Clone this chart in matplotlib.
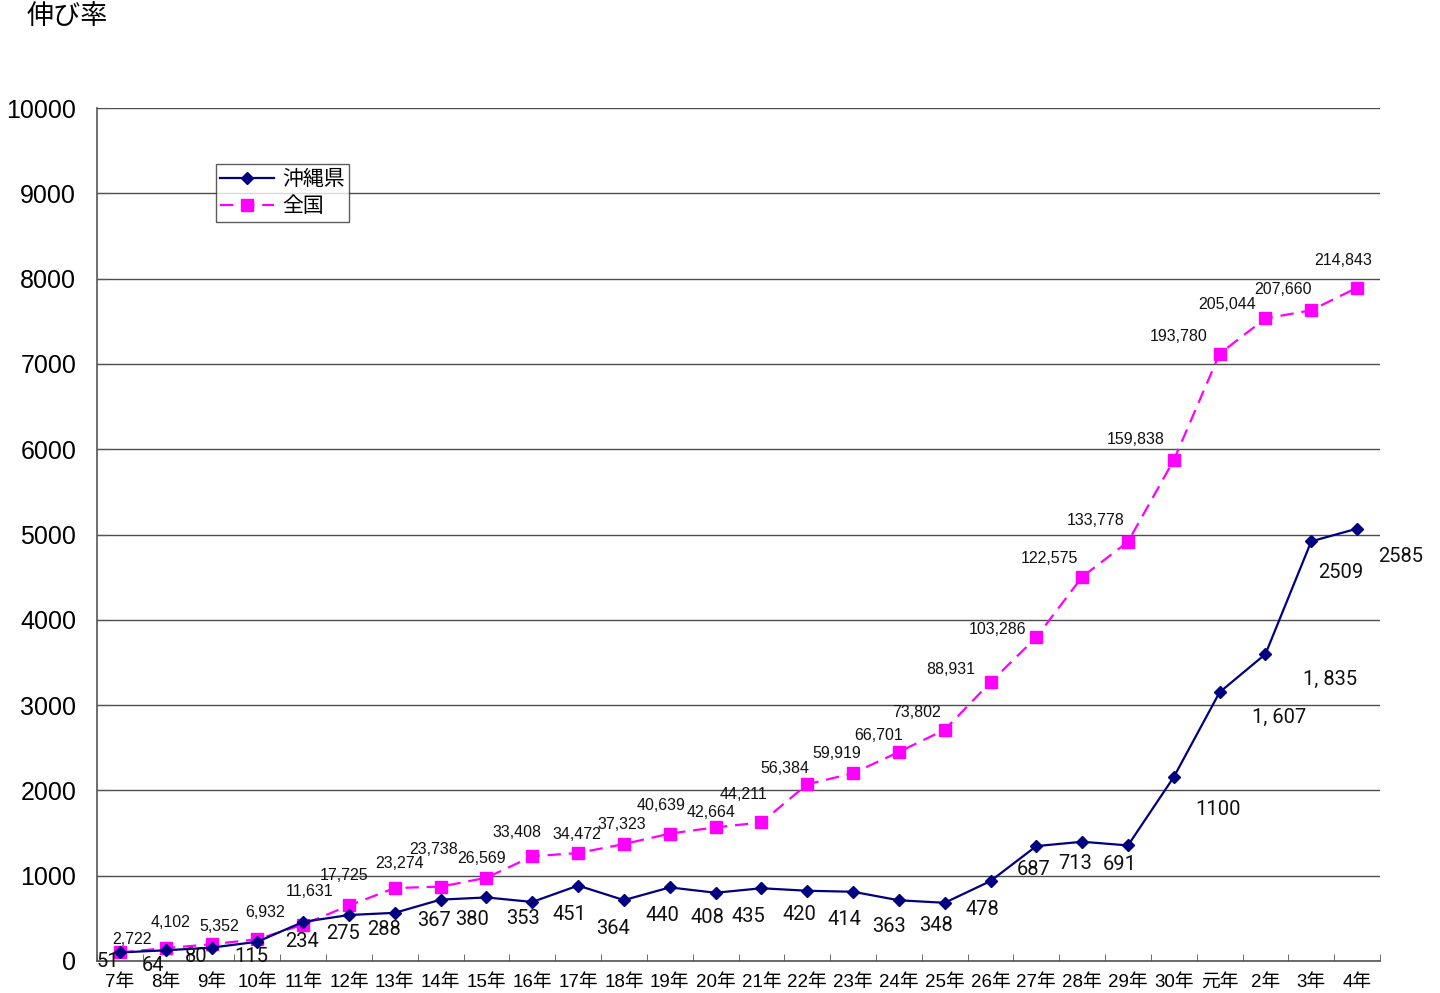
import matplotlib
matplotlib.use("Agg")
import matplotlib.pyplot as plt
import numpy as np

plt.rcParams["font.family"] = ["Noto Sans CJK JP", "DejaVu Sans"]

# %%
# Data
years = ["7年", "8年", "9年", "10年", "11年", "12年", "13年", "14年", "15年",
         "16年", "17年", "18年", "19年", "20年", "21年", "22年", "23年", "24年",
         "25年", "26年", "27年", "28年", "29年", "30年", "元年", "2年", "3年", "4年"]

okinawa_count = [51, 64, 80, 115, 234, 275, 288, 367, 380, 353, 451, 364, 440,
                 408, 435, 420, 414, 363, 348, 478, 687, 713, 691, 1100, 1607,
                 1835, 2509, 2585]
national_count = [2722, 4102, 5352, 6932, 11631, 17725, 23274, 23738, 26569,
                  33408, 34472, 37323, 40639, 42664, 44211, 56384, 59919, 66701,
                  73802, 88931, 103286, 122575, 133778, 159838, 193780, 205044,
                  207660, 214843]

okinawa_text = ["51", "64", "80", "115", "234", "275", "288", "367", "380", "353",
                "451", "364", "440", "408", "435", "420", "414", "363", "348",
                "478", "687", "713", "691", "1100", "1, 607", "1, 835", "2509",
                "2585"]
national_text = [f"{v:,}" for v in national_count]

# growth rate, first year = 100
okinawa_rate = np.array(okinawa_count) / okinawa_count[0] * 100
national_rate = np.array(national_count) / national_count[0] * 100

# label offsets in pixels (dx, dy) relative to the point, screen y upward
ok_off = [(-12, -9), (-13, -15), (-15, -9), (-6, -15), (-1, -20), (-6, -18),
          (-11, -17), (-7, -21), (-14, -22), (-9, -17), (-9, -29), (-11, -28),
          (-7, -28), (-8, -25), (-13, -28), (-8, -24), (-9, -28), (-10, -26),
          (-9, -23), (-8, -28), (-3, -23), (-7, -22), (-8, -19), (44, -32),
          (60, -25), (65, -25), (29, -31), (44, -28)]
nat_off = [(12, 13), (5, 26), (8, 18), (8, 27), (6, 33), (-5, 30), (5, 25),
           (-7, 37), (-5, 19), (-15, 24), (-1, 18), (-2, 20), (-9, 28), (-5, 15),
           (-18, 28), (-22, 16), (-16, 20), (-20, 16), (-28, 17), (-40, 13),
           (-39, 8), (-33, 18), (-32, 21), (-38, 21), (-41, 17), (-38, 14),
           (-28, 21), (-14, 27)]

x = np.arange(len(years))

# %%
# Figure
fig = plt.figure(figsize=(14.4, 9.93), dpi=100)
ax = fig.add_axes([97 / 1440, 1 - 961 / 993, 1283 / 1440, 853 / 993])

ax.set_xlim(-0.5, len(years) - 0.5)
ax.set_ylim(0, 10000)
ax.set_yticks(np.arange(0, 10001, 1000))
ax.yaxis.grid(True, color="#4d4d4d", linewidth=1.0)
ax.set_axisbelow(True)

ax.set_xticks(x)
ax.set_xticklabels(years, fontsize=13.5,
                   family=["Liberation Sans", "Noto Sans CJK JP"])
ax.set_xticks(np.arange(-0.5, len(years), 1), minor=True)
ax.tick_params(axis="x", which="major", length=0, pad=9)
ax.tick_params(axis="x", which="minor", direction="in", length=5, color="#555555")
ax.tick_params(axis="y", direction="in", length=8, color="#555555",
               labelsize=18, pad=15)
for lab in ax.get_yticklabels():
    lab.set_family(["Liberation Sans", "DejaVu Sans"])

for side in ["top", "right"]:
    ax.spines[side].set_visible(False)
for side in ["left", "bottom"]:
    ax.spines[side].set_color("#555555")
    ax.spines[side].set_linewidth(1.2)

ax.plot(x, okinawa_rate, color="#000080", marker="D", markersize=6,
        linewidth=1.6, label="沖縄県", zorder=4)
ax.plot(x, national_rate, color="#ff00ff", marker="s", markersize=9,
        linewidth=1.6, linestyle=(0, (6, 3.5)), label="全国", zorder=3)

for i in range(len(years)):
    ax.annotate(okinawa_text[i], (x[i], okinawa_rate[i]), xytext=ok_off[i],
                textcoords="offset pixels", ha="center", va="center",
                fontsize=14.5, color="#111111",
                family=["Roboto", "DejaVu Sans"], zorder=5)
    ax.annotate(national_text[i], (x[i], national_rate[i]), xytext=nat_off[i],
                textcoords="offset pixels", ha="center", va="center",
                fontsize=11.5, color="#111111",
                family=["Liberation Sans", "DejaVu Sans"], zorder=5)

leg = ax.legend(loc="upper left", bbox_to_anchor=(216 / 1440, 1 - 164 / 993),
                bbox_transform=fig.transFigure, fontsize=15, frameon=True,
                fancybox=False, edgecolor="#333333", borderpad=0.2,
                handlelength=2.6, labelspacing=0.25, handletextpad=0.4,
                borderaxespad=0)
leg.get_frame().set_linewidth(1.0)

fig.text(27 / 1440, 1 - 17 / 993, "伸び率", fontsize=19.5, va="center", ha="left")

fig.savefig("out.png", dpi=100)
